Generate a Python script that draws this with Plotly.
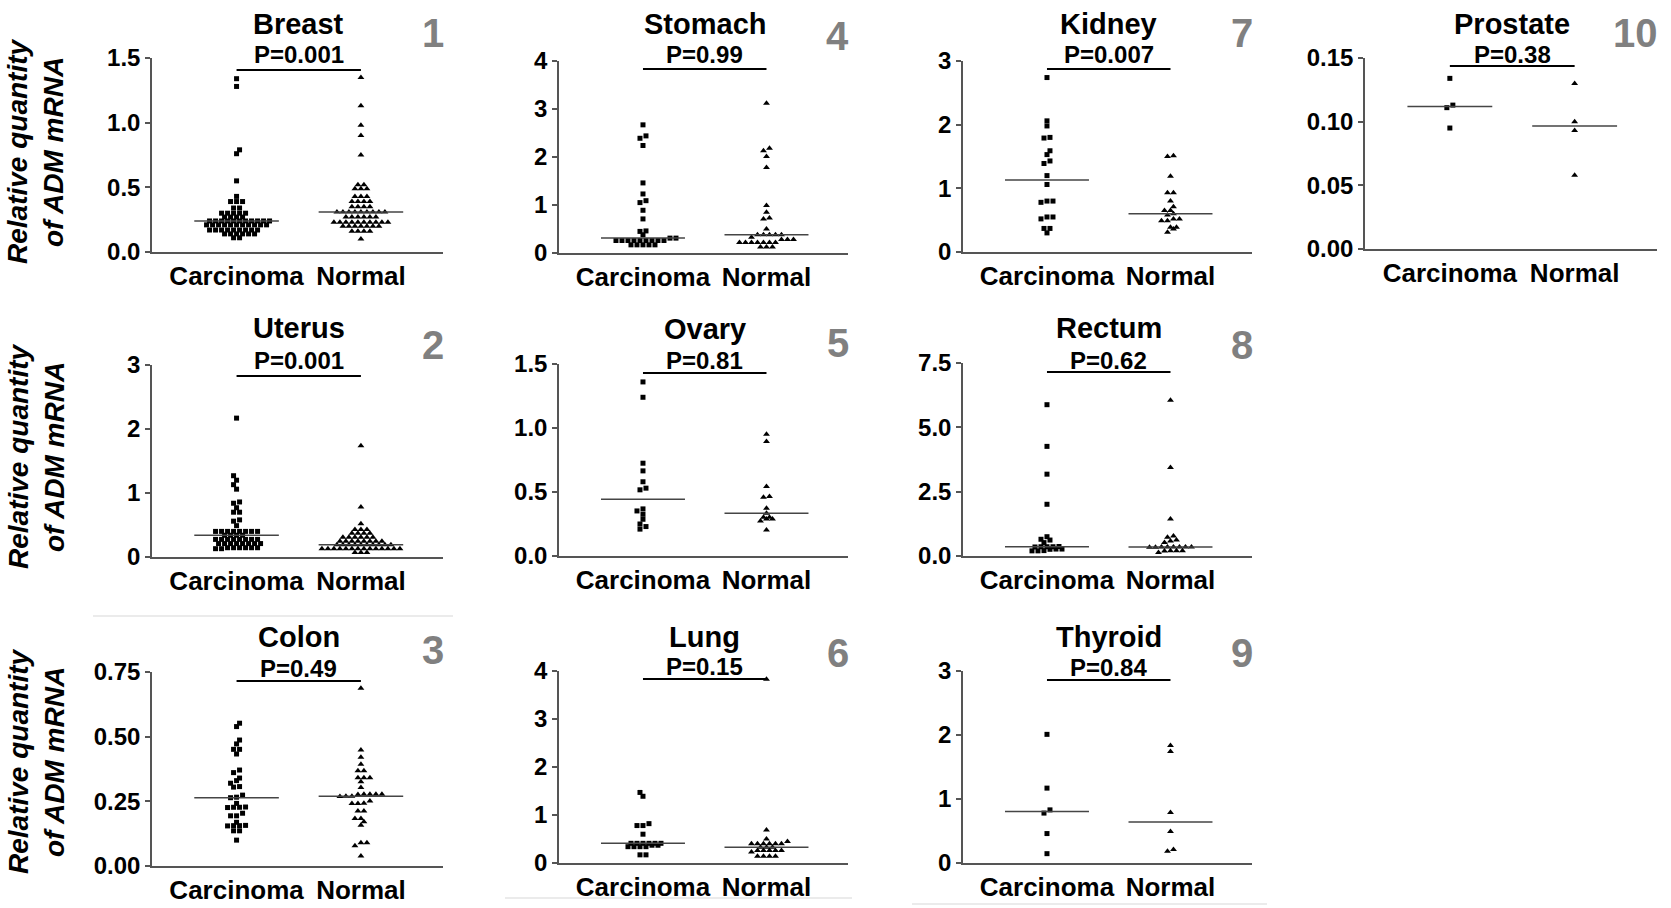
import numpy as np
import plotly.graph_objects as go

# ---------------- data ----------------
categories = ["Carcinoma", "Normal"]
tissues = ["Breast", "Uterus", "Colon", "Stomach", "Ovary", "Lung",
           "Kidney", "Rectum", "Thyroid", "Prostate"]
panel_numbers = ["1", "2", "3", "4", "5", "6", "7", "8", "9", "10"]
p_values = ["P=0.001", "P=0.001", "P=0.49", "P=0.99", "P=0.81", "P=0.15",
            "P=0.007", "P=0.62", "P=0.84", "P=0.38"]

breast_carcinoma = [1.34, 1.28, 0.79, 0.76, 0.55, 0.43, 0.39, 0.39, 0.39, 0.34, 0.34,
                    0.30, 0.30, 0.30, 0.30, 0.30, 0.27, 0.27, 0.27, 0.27,
                    0.24, 0.24, 0.24, 0.24, 0.24, 0.24, 0.24, 0.24, 0.24, 0.24, 0.24,
                    0.21, 0.21, 0.21, 0.21, 0.21, 0.21, 0.21, 0.21, 0.21, 0.21, 0.21,
                    0.17, 0.17, 0.17, 0.17, 0.17, 0.17, 0.17, 0.17, 0.17,
                    0.14, 0.14, 0.14, 0.14, 0.14, 0.14, 0.11, 0.11]
breast_normal = [1.35, 1.13, 0.98, 0.90, 0.75, 0.52, 0.52,
                 0.49, 0.49, 0.49, 0.43, 0.43, 0.43, 0.39, 0.39, 0.39, 0.39,
                 0.35, 0.35, 0.35, 0.35,
                 0.31, 0.31, 0.31, 0.31, 0.31, 0.31, 0.31, 0.31, 0.31,
                 0.27, 0.27, 0.27, 0.27, 0.27, 0.27,
                 0.23, 0.23, 0.23, 0.23, 0.23, 0.23, 0.23, 0.23, 0.23, 0.23,
                 0.20, 0.20, 0.20, 0.20, 0.20, 0.20, 0.20,
                 0.16, 0.16, 0.16, 0.16, 0.10]

uterus_carcinoma = [2.17, 1.27, 1.20, 1.13, 1.06, 0.86, 0.84, 0.77, 0.70, 0.70, 0.58, 0.56, 0.49,
                    0.40, 0.40, 0.40, 0.40, 0.40, 0.40, 0.40, 0.40,
                    0.34, 0.34, 0.34, 0.34,
                    0.275, 0.275, 0.275, 0.275, 0.275, 0.275, 0.275, 0.275,
                    0.21, 0.21, 0.21, 0.21, 0.21, 0.21, 0.21, 0.21,
                    0.145, 0.145, 0.145, 0.145, 0.145, 0.145, 0.13, 0.13]
uterus_normal = [1.74, 0.78, 0.52, 0.43, 0.43, 0.43, 0.37, 0.37, 0.37, 0.37,
                 0.31, 0.31, 0.31, 0.31, 0.31, 0.31,
                 0.245, 0.245, 0.245, 0.245, 0.245, 0.245, 0.245, 0.245,
                 0.19, 0.19, 0.19, 0.19, 0.19, 0.19, 0.19, 0.19, 0.19, 0.19,
                 0.13, 0.13, 0.13, 0.13, 0.13, 0.13, 0.13, 0.13, 0.13, 0.13, 0.13, 0.13, 0.13, 0.13,
                 0.07, 0.07, 0.07]

colon_carcinoma = [0.552, 0.539, 0.487, 0.472, 0.451, 0.451, 0.433, 0.371, 0.361, 0.34,
                   0.33, 0.32, 0.307, 0.305, 0.274, 0.266, 0.264, 0.242, 0.227, 0.227,
                   0.226, 0.228, 0.204, 0.194, 0.194, 0.169, 0.156, 0.156, 0.157, 0.155,
                   0.136, 0.136, 0.10]
colon_normal = [0.687, 0.448, 0.42, 0.393, 0.368, 0.368, 0.341, 0.341, 0.341, 0.326,
                0.303, 0.277, 0.277, 0.276, 0.277, 0.277, 0.27, 0.269, 0.27, 0.251,
                0.242, 0.242, 0.243, 0.213, 0.213, 0.184, 0.184, 0.171, 0.158,
                0.09, 0.09, 0.078, 0.039]

stomach_carcinoma = [2.67, 2.44, 2.39, 2.24, 1.46, 1.23, 1.09, 1.05, 0.89, 0.71, 0.46, 0.45,
                     0.38, 0.31, 0.31, 0.26, 0.26, 0.26, 0.26, 0.26, 0.26, 0.26, 0.26, 0.26,
                     0.17, 0.17, 0.17, 0.17, 0.17]
stomach_normal = [3.12, 2.18, 2.13, 2.01, 1.78, 0.99, 0.85, 0.73, 0.71, 0.50,
                  0.38, 0.38, 0.38, 0.38, 0.38, 0.33, 0.28, 0.28, 0.28,
                  0.22, 0.22, 0.22, 0.22, 0.22, 0.22, 0.22, 0.125, 0.125, 0.125]

ovary_carcinoma = [1.36, 1.24, 0.725, 0.665, 0.58, 0.53, 0.517, 0.368, 0.352, 0.326,
                   0.287, 0.25, 0.23, 0.21]
ovary_normal = [0.952, 0.895, 0.543, 0.464, 0.459, 0.373, 0.334, 0.303, 0.303, 0.29,
                0.29, 0.274, 0.203]

lung_carcinoma = [1.47, 1.39, 0.82, 0.78, 0.78, 0.60, 0.41, 0.41, 0.41, 0.41, 0.41, 0.41,
                  0.37, 0.37, 0.34, 0.34, 0.34, 0.34, 0.17, 0.17]
lung_normal = [3.83, 0.69, 0.50, 0.45, 0.40, 0.40, 0.40, 0.40, 0.40, 0.40, 0.33, 0.33, 0.33,
               0.26, 0.26, 0.26, 0.26, 0.26, 0.23, 0.14, 0.14, 0.14, 0.14]

kidney_carcinoma = [2.74, 2.06, 1.98, 1.80, 1.79, 1.59, 1.53, 1.43, 1.39, 1.20, 1.06,
                    0.80, 0.80, 0.78, 0.55, 0.55, 0.52, 0.37, 0.37, 0.30]
kidney_normal = [1.51, 1.50, 1.19, 0.93, 0.93, 0.80, 0.71, 0.65, 0.65, 0.60, 0.58,
                 0.52, 0.52, 0.49, 0.49, 0.39, 0.39, 0.36, 0.31]

rectum_carcinoma = [5.88, 4.26, 3.18, 2.01, 0.75, 0.65, 0.62, 0.52, 0.37, 0.36, 0.36,
                    0.35, 0.36, 0.27, 0.26, 0.27, 0.20, 0.20, 0.21]
rectum_normal = [6.05, 3.44, 1.44, 0.78, 0.73, 0.62, 0.58, 0.52,
                 0.35, 0.35, 0.34, 0.35, 0.35, 0.34, 0.35, 0.35,
                 0.20, 0.20, 0.19, 0.20, 0.14]

thyroid_carcinoma = [2.01, 1.17, 0.83, 0.78, 0.46, 0.146]
thyroid_normal = [1.836, 1.742, 0.79, 0.494, 0.21, 0.182]

prostate_carcinoma = [0.134, 0.113, 0.111, 0.095]
prostate_normal = [0.130, 0.100, 0.093, 0.058]

carcinoma_series = [breast_carcinoma, uterus_carcinoma, colon_carcinoma, stomach_carcinoma,
                    ovary_carcinoma, lung_carcinoma, kidney_carcinoma, rectum_carcinoma,
                    thyroid_carcinoma, prostate_carcinoma]
normal_series = [breast_normal, uterus_normal, colon_normal, stomach_normal,
                 ovary_normal, lung_normal, kidney_normal, rectum_normal,
                 thyroid_normal, prostate_normal]

tick_values = [[0, 0.5, 1.0, 1.5], [0, 1, 2, 3], [0, 0.25, 0.5, 0.75], [0, 1, 2, 3, 4],
               [0, 0.5, 1.0, 1.5], [0, 1, 2, 3, 4], [0, 1, 2, 3], [0, 2.5, 5.0, 7.5],
               [0, 1, 2, 3], [0, 0.05, 0.10, 0.15]]
tick_labels = [["0.0", "0.5", "1.0", "1.5"], ["0", "1", "2", "3"],
               ["0.00", "0.25", "0.50", "0.75"], ["0", "1", "2", "3", "4"],
               ["0.0", "0.5", "1.0", "1.5"], ["0", "1", "2", "3", "4"],
               ["0", "1", "2", "3"], ["0.0", "2.5", "5.0", "7.5"],
               ["0", "1", "2", "3"], ["0.00", "0.05", "0.10", "0.15"]]
y_title = "Relative quantity<br>of ADM mRNA"

# ---------------- layout (pixel geometry) ----------------
W, H = 1671, 908
cols = [(152, 443), (559, 848), (963, 1252), (1365, 1657)]
# col, y_top, y_bottom, title_y, p_y, bracket_y, number_y
geom = [
    (0, 58, 252, 24, 54, 70, 33),
    (0, 365, 557, 328, 361, 376, 345),
    (0, 672, 866, 637, 668, 681, 650),
    (1, 61, 253, 24, 54, 69, 36),
    (1, 364, 556, 329, 360, 373, 343),
    (1, 671, 863, 637, 666, 679, 653),
    (2, 61, 252, 24, 54, 69, 33),
    (2, 363, 556, 328, 360, 372, 345),
    (2, 671, 863, 637, 667, 680, 653),
    (3, 58, 249, 24, 54, 66, 33),
]
XR = (-0.68, 1.66)
FONT = "Liberation Sans, Arial, sans-serif"
AX_COLOR = "#555555"


def py(p):
    return 1 - p / H


def px(p):
    return p / W


def column_scatter(values, ppu_y, row_h=3.3, spacing=6.0, D=4.6):
    """Prism-like column scatter: group values into rows, spread each row
    symmetrically, and stagger a row by half a step if it would collide."""
    vals = np.asarray(values, dtype=float)
    order = np.argsort(vals, kind="stable")
    bins, cur, start = [], [], None
    for idx in order:
        y = vals[idx] * ppu_y
        if start is None or y - start >= row_h:
            if cur:
                bins.append(cur)
            cur, start = [idx], y
        else:
            cur.append(idx)
    if cur:
        bins.append(cur)
    offs = np.zeros(len(vals))
    placed = []
    bal = 0.0
    for b in bins:
        n = len(b)
        base = [(j - (n - 1) / 2) * spacing for j in range(n)]
        ys = [vals[i] * ppu_y for i in b]
        sh = spacing / 2
        cands = [0.0, sh, -sh] if bal <= 0 else [0.0, -sh, sh]
        best, best_d = None, -1
        for c in cands:
            pts = [(o + c, y) for o, y in zip(base, ys)]
            if placed:
                dmin = min(((a - pa) ** 2 + (yy - pb) ** 2) ** 0.5
                           for a, yy in pts for pa, pb in placed)
            else:
                dmin = 1e9
            if dmin >= D:
                best = pts
                break
            if dmin > best_d:
                best, best_d = pts, dmin
        for i, (a, yy) in zip(b, best):
            offs[i] = a
        placed.extend(best)
        bal += sum(a for a, _ in best)
    return offs


fig = go.Figure()
annotations = []
shapes = []

for i, (c, yt, yb, ty, pyy, by, ny) in enumerate(geom):
    n = i + 1
    xa = "x" if n == 1 else f"x{n}"
    ya = "y" if n == 1 else f"y{n}"
    x0, x1 = cols[c]
    ymax = tick_values[i][-1]
    ppu_x = (x1 - x0) / (XR[1] - XR[0])
    ppu_y = (yb - yt) / ymax

    for k, (series, sym, size) in enumerate([(carcinoma_series[i], "square", 5),
                                             (normal_series[i], "triangle-up", 6)]):
        offs = column_scatter(series, ppu_y)
        fig.add_trace(go.Scatter(
            x=k + offs / ppu_x, y=series, mode="markers", xaxis=xa, yaxis=ya,
            marker=dict(symbol=sym, size=size, color="black", line=dict(width=0)),
            showlegend=False, cliponaxis=False, hoverinfo="y"))
        med = float(np.median(series))
        shapes.append(dict(type="line", xref=xa, yref=ya, x0=k - 0.34, x1=k + 0.34,
                           y0=med, y1=med, line=dict(color="#454545", width=1.5)))

    frac = (yb - by) / (yb - yt)
    shapes.append(dict(type="line", xref=xa, yref=f"{ya} domain", x0=0, x1=1,
                       y0=frac, y1=frac, line=dict(color="black", width=2)))

    key = "" if n == 1 else str(n)
    fig.layout[f"xaxis{key}"] = dict(
        domain=[px(x0), px(x1)], range=list(XR), anchor=ya, automargin=False,
        tickvals=[0, 1], ticktext=categories, ticks="", showgrid=False, zeroline=False,
        showline=True, linecolor=AX_COLOR, linewidth=1.5,
        tickfont=dict(family=FONT, size=26, color="black", weight="bold"))
    fig.layout[f"yaxis{key}"] = dict(
        domain=[py(yb), py(yt)], range=[0, ymax], anchor=xa, automargin=False,
        tickvals=tick_values[i], ticktext=tick_labels[i], ticks="outside", ticklen=5,
        tickwidth=1.5, tickcolor=AX_COLOR, showgrid=False, zeroline=False,
        showline=True, linecolor=AX_COLOR, linewidth=1.5,
        tickfont=dict(family=FONT, size=24, color="black", weight="bold"))

    annotations.append(dict(text=tissues[i], xref=xa, yref="paper", x=0.5, y=py(ty),
                            xanchor="center", yanchor="middle", showarrow=False,
                            font=dict(family=FONT, size=29, color="black", weight="bold")))
    annotations.append(dict(text=p_values[i], xref=xa, yref="paper", x=0.5, y=py(pyy),
                            xanchor="center", yanchor="middle", showarrow=False,
                            font=dict(family=FONT, size=24, color="black", weight="bold")))
    annotations.append(dict(text=panel_numbers[i], xref="paper", yref="paper",
                            x=px(x1 + 3), y=py(ny), xanchor="right", yanchor="middle",
                            showarrow=False,
                            font=dict(family=FONT, size=40, color="#808080", weight="bold")))

for yc in (152, 457, 762):
    annotations.append(dict(text=y_title, xref="paper", yref="paper", x=px(36), y=py(yc),
                            xanchor="center", yanchor="middle", textangle=-90,
                            showarrow=False,
                            font=dict(family=FONT, size=28, color="black", weight="bold",
                                      style="italic")))

for (a, b, yy) in [(93, 453, 616), (505, 852, 898), (912, 1267, 904)]:
    shapes.append(dict(type="line", xref="paper", yref="paper", x0=px(a), x1=px(b),
                       y0=py(yy), y1=py(yy), layer="below",
                       line=dict(color="#e4e4e4", width=1.5)))

fig.update_layout(width=W, height=H,
                  margin=dict(l=0, r=0, t=0, b=0, pad=0, autoexpand=False),
                  paper_bgcolor="white", plot_bgcolor="white",
                  annotations=annotations, shapes=shapes, showlegend=False)

fig.write_html("out.html", config={"displayModeBar": False},
               post_script="document.body.style.margin='0';document.body.style.overflow='hidden';")
